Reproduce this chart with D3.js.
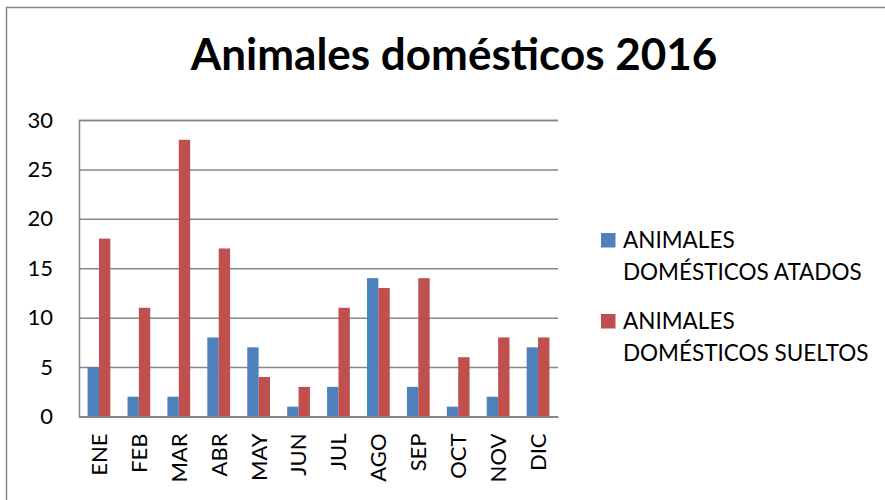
<!DOCTYPE html>
<html><head><meta charset="utf-8">
<script src="https://cdn.jsdelivr.net/npm/d3@7"></script>
<style>body{margin:0;background:#fff}svg{display:block;font-family:Lato,"Open Sans",sans-serif}</style>
</head><body><svg id="c" width="885" height="500"></svg>
<script>
const title = "Animales domésticos 2016";
const months = ["ENE","FEB","MAR","ABR","MAY","JUN","JUL","AGO","SEP","OCT","NOV","DIC"];
const seriesNames = ["ANIMALES DOMÉSTICOS ATADOS","ANIMALES DOMÉSTICOS SUELTOS"];
const atados = [5,2,2,8,7,1,3,14,3,1,2,7];
const sueltos = [18,11,28,17,4,3,11,13,14,6,8,8];
const yTicks = [0,5,10,15,20,25,30];
const colors = ["#4F81BD","#C0504D"];

const svg = d3.select("#c");
const m = {left:79, right:558, top:120, bottom:416.5};

// outer border
svg.append("rect").attr("x",6.5).attr("y",7.5).attr("width",900).attr("height",520)
  .attr("fill","none").attr("stroke","#868686").attr("stroke-width",1.5);

svg.append("text").attr("x",454).attr("y",70).attr("text-anchor","middle")
  .attr("font-size",44).attr("font-weight","bold").attr("fill","#000").text(title);

const x = d3.scaleBand().domain(months).range([m.left,m.right]).paddingInner(0.43).paddingOuter(0.215);
const sub = d3.scaleBand().domain([0,1]).range([0,x.bandwidth()]);
const y = d3.scaleLinear().domain([0,30]).range([m.bottom,m.top]);

// gridlines
const yAxis = d3.axisLeft(y).tickValues(yTicks).tickSize(-(m.right-m.left)).tickPadding(26).tickFormat(d3.format("d"));
const gy = svg.append("g").attr("transform",`translate(${m.left},0)`).call(yAxis);
gy.select(".domain").attr("stroke","#868686").attr("stroke-width",1.5);
gy.selectAll(".tick line").attr("stroke","#868686").attr("stroke-width",1.5);
gy.selectAll(".tick text").attr("font-size",22).attr("fill","#000").attr("font-family","Lato");

const data = months.map((mo,i)=>({mo, v:[atados[i],sueltos[i]]}));
const g = svg.append("g");
data.forEach(d=>{
  d.v.forEach((v,k)=>{
    g.append("rect").attr("x",x(d.mo)+sub(k)).attr("width",sub.bandwidth())
      .attr("y",y(v)).attr("height",y(0)-y(v)).attr("fill",colors[k]);
  });
});

// x axis
const xAxis = d3.axisBottom(x).tickSize(0).tickPadding(0);
const gx = svg.append("g").attr("transform",`translate(0,${m.bottom})`).call(xAxis);
gx.select(".domain").attr("stroke","#868686").attr("stroke-width",1.5);
gx.selectAll(".tick text").attr("font-size",22).attr("fill","#000").attr("font-family","Lato")
  .attr("transform","rotate(-90)").attr("text-anchor","end").attr("dy","0.36em").attr("x",-17).attr("y",0);

// legend
const leg = svg.append("g");
const legY = [233, 314];
seriesNames.forEach((n,k)=>{
  const words = n.split(" ");
  leg.append("rect").attr("x",601).attr("y",legY[k]).attr("width",14.5).attr("height",14.5).attr("fill",colors[k]);
  const t = leg.append("text").attr("x",623).attr("y",legY[k]+15).attr("font-size",22.5).attr("fill","#000");
  t.append("tspan").attr("x",623).text(words[0]);
  t.append("tspan").attr("x",623).attr("dy",32).text(words.slice(1).join(" "));
});
</script></body></html>
